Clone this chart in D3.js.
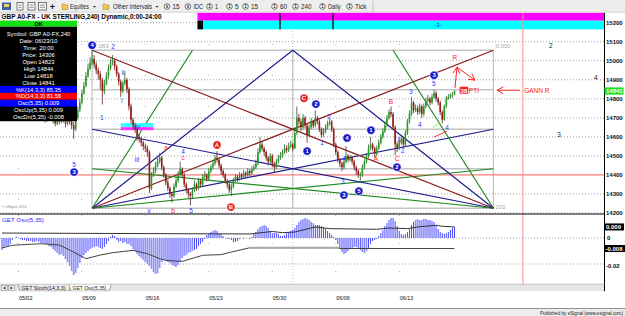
<!DOCTYPE html>
<html>
<head>
<meta charset="utf-8">
<script src="https://cdn.jsdelivr.net/npm/d3@7"></script>
<style>
  body { margin: 0; background: #fff; overflow: hidden; }
  svg { display: block; font-family: "Liberation Sans", Arial, sans-serif; }
</style>
</head>
<body>
<script>
// ---- 240 min GBP A0-FX bars ----
var closes = [14880,14860,14870,14840,14820,14850,14830,14800,14780,14810,
  14790,14760,14740,14770,14750,14720,14740,14760,14730,14700,
  14720,14690,14710,14740,14720,14690,14670,14700,14680,14710,
  14690,14670,14700,14680,14660,14640,
  14700,14740,14780,14830,14870,14920,14960,14990,15010,
  14980,14950,14930,14900,14840,
  14880,14920,14960,14990,15000,14970,
  14930,14890,14840,14880,14900,
  14850,14760,14690,14660,14640,14600,
  14590,14570,14550,14540,14520,14330,
  14400,14420,14450,14470,14490,14440,
  14400,14360,14330,14300,14290,14340,14370,14400,
  14430,14400,14350,14320,14300,14290,
  14320,14350,14330,14370,14350,14390,14400,14380,14420,14440,14460,14490,14480,
  14450,14420,14400,14370,14350,14320,14340,
  14370,14390,14380,14400,14390,14410,14400,14420,14410,14430,14440,14460,
  14520,14560,14540,14520,
  14490,14470,14500,14460,14440,14470,14490,
  14500,14520,14540,14530,14550,14560,14540,
  14620,14700,14680,
  14650,14700,14660,14610,14650,14680,14660,14700,14680,
  14640,14610,14630,14650,14670,14680,14640,14560,14520,14480,14460,14440,
  14470,14500,14480,14490,14470,14440,14420,
  14400,14400,14440,14470,
  14500,14540,14560,14540,14510,14540,14570,14600,
  14630,14660,14700,14730,14720,
  14650,14560,14540,14570,
  14590,14560,14620,14680,14720,14780,14740,
  14750,14730,14760,14720,14760,14790,
  14800,14780,14810,14830,14800,
  14780,14730,14690,
  14760,14800,14810,14820,14823,14841];

var highs = [14900,14895,14885,14880,14855,14865,14860,14840,14815,14825,
  14820,14800,14770,14785,14780,14760,14755,14775,14770,14740,
  14735,14730,14725,14755,14750,14730,14700,14715,14710,14725,
  14720,14700,14715,14710,14690,14680,
  14715,14760,14800,14850,14890,14940,14985,15020,15060,
  15030,14995,14965,14945,14910,
  14900,14940,14980,15010,15030,15010,
  14980,14940,14900,14895,14945,
  14910,14860,14775,14700,14675,14650,
  14615,14600,14580,14565,14555,14530,
  14415,14440,14470,14490,14515,14500,
  14450,14410,14375,14340,14310,14355,14390,14420,
  14470,14440,14410,14360,14330,14310,
  14335,14370,14360,14385,14380,14405,14420,14410,14435,14455,14480,14505,14525,
  14490,14460,14430,14410,14380,14360,14355,
  14385,14405,14400,14415,14410,14425,14420,14435,14430,14445,14455,14480,
  14540,14600,14575,14550,
  14530,14500,14515,14510,14470,14485,14505,
  14520,14535,14560,14555,14570,14580,14570,
  14650,14760,14720,
  14695,14720,14710,14670,14665,14700,14690,14740,14710,
  14690,14650,14645,14665,14685,14695,14690,14650,14570,14530,14490,14470,
  14485,14550,14510,14505,14500,14480,14450,
  14430,14415,14455,14485,
  14515,14560,14600,14570,14550,14555,14585,14615,
  14645,14680,14715,14745,14760,
  14730,14660,14575,14590,
  14610,14600,14635,14695,14740,14810,14790,
  14770,14765,14775,14770,14775,14805,
  14820,14810,14825,14850,14840,
  14810,14790,14740,
  14770,14815,14825,14830,14835,14844];

var lows = [14865,14845,14850,14825,14805,14810,14815,14790,14765,14770,
  14775,14745,14725,14730,14735,14705,14710,14730,14715,14685,
  14690,14675,14680,14700,14705,14670,14655,14660,14665,14670,
  14675,14650,14660,14665,14640,14590,
  14630,14690,14730,14770,14820,14860,14910,14950,14975,
  14960,14930,14900,14850,14770,
  14825,14870,14905,14950,14975,14950,
  14915,14870,14810,14830,14870,
  14830,14740,14670,14640,14620,14580,
  14570,14550,14530,14520,14495,14305,
  14320,14390,14410,14440,14460,14425,
  14385,14345,14315,14280,14255,14280,14330,14360,
  14390,14385,14335,14305,14280,14240,
  14275,14310,14315,14320,14335,14340,14375,14365,14370,14410,14430,14450,14465,
  14435,14400,14385,14355,14330,14305,14290,
  14330,14360,14365,14370,14375,14380,14385,14390,14395,14400,14420,14430,
  14450,14510,14525,14500,
  14475,14450,14460,14440,14410,14430,14460,
  14480,14490,14510,14515,14520,14540,14525,
  14535,14610,14660,
  14630,14640,14645,14570,14600,14640,14645,14650,14665,
  14625,14595,14600,14620,14640,14660,14625,14545,14505,14465,14440,14420,
  14430,14460,14465,14470,14455,14425,14400,
  14385,14370,14390,14430,
  14460,14490,14530,14525,14490,14500,14530,14560,
  14590,14620,14650,14690,14705,
  14635,14505,14520,14530,
  14560,14545,14550,14610,14670,14710,14725,
  14730,14715,14720,14700,14710,14750,
  14780,14765,14770,14800,14785,
  14765,14715,14670,
  14685,14750,14795,14800,14805,14818];

// GET Oso(5,35) histogram, in units of 0.001
var oscHist = [-9.2,-7.7,-6.2,-6.2,-4.6,-1.5,0,0.8,0,-0.8,
  -1.5,-1.5,-2.3,-2.3,-2.3,-3.1,-3.1,-2.3,-3.1,-3.8,
  -3.8,-4.6,-4.6,-6.2,-6.9,-8.5,-10,-11.5,-13.1,-12.3,
  -13.8,-16.2,-18.5,-21.5,-25.4,-28.5,-26.9,-23.1,-19.2,-15.4,
  -13.1,-11.5,-10,-8.5,-7.7,-6.9,-6.2,-6.9,-7.7,-8.5,
  -6.9,-4.6,-2.3,0.8,2.3,1.5,-1.5,-3.1,-2.3,-3.8,
  -3.1,-4.6,-4.6,-6.2,-8.5,-10,-12.3,-13.8,-15.4,-16.9,
  -18.5,-20,-21.5,-23.8,-26.2,-27.7,-26.9,-23.1,-18.5,-16.9,
  -17.7,-18.5,-19.2,-20.8,-21.5,-22.3,-20.8,-18.5,-15.4,-13.8,
  -13.1,-11.5,-10.8,-10,-9.2,-8.5,-6.2,-4.6,-3.1,-0.8,
  2.3,3.8,4.6,5.4,6.2,5.4,3.8,3.1,1.5,0,
  -0.8,-0.8,-1.5,-3.1,-3.1,-2.3,-0.8,0,-0.8,0,
  0,-0.8,0.8,3.1,4.6,6.9,8.5,9.2,10,9.2,
  7.7,5.4,3.8,3.8,3.8,3.1,1.5,1.5,2.3,3.8,
  4.6,5.4,6.2,7.7,10,12.3,13.8,14.6,15.4,14.6,
  13.8,12.3,11.5,10,10,10,9.2,8.5,6.9,5.4,
  3.8,2.3,0.8,-1.5,-4.6,-7.7,-10.8,-12.3,-11.5,-10,
  -8.5,-7.7,-6.9,-6.9,-7.7,-9.2,-10.8,-11.5,-10,-7.7,
  -4.6,-2.3,-1.5,-0.8,1.5,3.8,6.2,9.2,11.5,13.8,
  15.4,15.4,13.1,9.2,5.4,3.1,2.3,3.1,4.6,6.9,
  10,12.3,13.8,14.6,13.8,13.8,14.6,14.6,13.8,13.8,
  13.1,12.3,9.2,6.9,4.6,3.8,3.1,3.8,4.6,6.2,
  7.7,8.5];

// OscUp / OscDn lines: [bar, value in 0.001]
var oscUp = [[0,3.8],[121,3.1],[125,3.8],[132,5.0],[137,4.1],[143,4.6],[153,8.5],
  [160,7.2],[183,6.7],[189,7.7],[198,7.2],[203,8.5],[212,9.8],[215,9.0],[221,8.5]];
var oscDn = [[0,-7.7],[5,-5.6],[19,-4.4],[28,-5.4],[33,-9.2],[41,-15.9],[48,-13.1],
  [54,-11.3],[64,-9.5],[71,-12.1],[77,-15.9],[80,-17.2],[88,-18],[98,-13.3],
  [107,-12.8],[112,-10.8],[121,-7.5],[164,-7.5],[165,-8.1],[221,-8.1]];

var weekLabels = ["05/02","05/09","05/16","05/23","05/30","06/06","06/13"];
var weekBars = [8,39,70,101,132,163,194];
var priceTicks = [14200,14300,14400,14500,14600,14700,14800,14900,15000,15100,15200];

// Gann box: bars and prices of its corners
var gannBars = [44,240];
var gannPrices = [14225,15055];

// wave count marks: [bar, price, text]
var blueCircles = [[44,15081,"4"],[35.2,14415,"3"],[149,14525,"1"],[153.3,14772,"2"],
  [168.5,14594,"4"],[167,14294,"3"],[174.3,14315,"5"],[180.2,14635,"1"],[192.9,14441,"2"],[211,14924,"3"]];
var redCircles = [[105,14557,"A"],[111.8,14231,"B"],[147.5,14803,"C"]];
var blueLabels = [[35.2,14452,"5"],[48.8,14698,"1"],[54.2,15071,"2"],[59.1,14935,"ii"],
  [58.6,14788,"i"],[65.9,14478,"iii"],[66.4,14652,"iv"],[71.8,14210,"v"],[88.4,14520,"4"],[92.3,14210,"5"],
  [159.7,14704,"2"],[156.3,14567,"1"],[166.5,14363,"3"],[167,14483,"4"],[193.8,14583,"1"],
  [195.8,14525,"2"],[199.7,14835,"3"],[204.1,14662,"4"],[210.9,14877,"5"],[217.3,14646,"4"]];
var redLabels = [[80.1,14541,"a"],[88.4,14489,"c"],[83.5,14210,"b"],[182.6,14483,"A"],
  [189.9,14782,"B"],[192.9,14483,"C"],[221.2,15013,"R"]];
var blackLabels = [[268,15076,"2"],[290,14908,"4"],[272,14609,"3"]];
var waveZone = [58,74,14672,14651,14635];

var infoRows = ["Symbol: GBP A0-FX,240","Date: 06/23/10","Time: 20:00","Price: 14306",
  "Open 14823","High 14844","Low 14818","Close 14841","%K(14,3,3) 85.35","%D(14,3,3) 81.56",
  "Osc(5,35) 0.009","OscUp(5,35) 0.009","OscDn(5,35) -0.008"];
var lastPrice = 14841;
var alertBar = 254.4;

// ---------------------------------------------------------------
var W = 625, H = 316;
var svg = d3.select("body").append("svg").attr("width", W).attr("height", H);

var x = d3.scaleLinear().domain([0, 294]).range([2, 604]);
var y = d3.scaleLinear().domain([14200, 15100]).range([213, 41.7]);
var oy = d3.scaleLinear().domain([0, -0.02]).range([238, 264]);

function text(g, px, py, s, o) {
  o = o || {};
  var t = g.append("text").attr("x", px).attr("y", py).text(s)
    .attr("font-size", o.size || 6.5).attr("fill", o.fill || "#000");
  if (o.anchor) t.attr("text-anchor", o.anchor);
  if (o.weight) t.attr("font-weight", o.weight);
  if (o.len) t.attr("textLength", o.len).attr("lengthAdjust", "spacingAndGlyphs");
  return t;
}
function seg(g, x1, y1, x2, y2, col, w, dash) {
  var l = g.append("line").attr("x1", x1).attr("y1", y1).attr("x2", x2).attr("y2", y2)
    .attr("stroke", col).attr("stroke-width", w || 1);
  if (dash) l.attr("stroke-dasharray", dash);
  return l;
}
function arrowHead(g, x1, y1, x2, y2, col) {
  var a = Math.atan2(y2 - y1, x2 - x1);
  [0.5, -0.5].forEach(function (d) {
    seg(g, x2, y2, x2 - 7 * Math.cos(a + d), y2 - 7 * Math.sin(a + d), col, 1);
  });
}

// ---- main price panel ----
svg.append("defs").append("clipPath").attr("id", "mainclip")
  .append("rect").attr("x", 0).attr("y", 12.5).attr("width", 604.5).attr("height", 201.5);
var main = svg.append("g").attr("clip-path", "url(#mainclip)");

priceTicks.forEach(function (p) {
  if (p === 14400) return;
  seg(main, 0, y(p), 604, y(p), "#8a8a8a", 0.8, "1,2");
});
weekBars.forEach(function (b) {
  seg(main, x(b), 13, x(b), 214, "#9a9a9a", 0.8, "1,30");
});
seg(main, x(142), 13, x(142), 214, "#b0b0b0", 0.8, "1,2");

// gann grid
var gq = d3.range(5).map(function (k) { return gannPrices[0] + k * (gannPrices[1] - gannPrices[0]) / 4; });
var gb = d3.range(5).map(function (k) { return gannBars[0] + k * (gannBars[1] - gannBars[0]) / 4; });
gq.forEach(function (p) { seg(main, x(gannBars[0]), y(p), x(gannBars[1]), y(p), "#c4c4c4", 1.3); });
[gb[0], gb[2], gb[4]].forEach(function (b) { seg(main, x(b), y(gannPrices[1]), x(b), y(gannPrices[0]), "#c4c4c4", 1.3); });

seg(main, 0, y(14400), 604, y(14400), "#ff5a5a", 1);

// fan lines from both bottom corners
var fanColors = { green: "#1f8a1f", blue: "#1c1c8c", brown: "#8a1c1c" };
[[gb[0], gb[1], gb[2], gb[4]], [gb[4], gb[3], gb[2], gb[0]]].forEach(function (c) {
  var ox = x(c[0]), oyp = y(gq[0]);
  seg(main, ox, oyp, x(c[1]), y(gq[4]), fanColors.green, 1.2);
  seg(main, ox, oyp, x(c[2]), y(gq[4]), fanColors.blue, 1.2);
  seg(main, ox, oyp, x(c[3]), y(gq[4]), fanColors.brown, 1.2);
  seg(main, ox, oyp, x(c[3]), y(gq[2]), fanColors.blue, 1.2);
  seg(main, ox, oyp, x(c[3]), y(gq[1]), fanColors.green, 1.2);
});

text(main, x(gannBars[0]) + 5, y(gannPrices[1]) - 2.5, ".083", { size: 6, fill: "#a8a8a8" });
text(main, x(gannBars[1]) + 2, y(gannPrices[1]) - 2.5, "0.000", { size: 6, fill: "#a8a8a8" });
text(main, x(gannBars[1]) + 2, y(gannPrices[0]) + 1, "203", { size: 6, fill: "#a8a8a8" });

// wave-iv zone
main.append("rect").attr("x", x(waveZone[0])).attr("width", x(waveZone[1]) - x(waveZone[0]))
  .attr("y", y(waveZone[2])).attr("height", y(waveZone[3]) - y(waveZone[2])).attr("fill", "#33ffff");
main.append("rect").attr("x", x(waveZone[0])).attr("width", x(waveZone[1]) - x(waveZone[0]))
  .attr("y", y(waveZone[3])).attr("height", y(waveZone[4]) - y(waveZone[3])).attr("fill", "#ff33ff");

// candles
var bars = closes.map(function (c, i) {
  return { i: i, o: i ? closes[i - 1] : c, h: highs[i], l: lows[i], c: c };
});
var cg = main.append("g");
cg.selectAll("line").data(bars).join("line")
  .attr("x1", function (d) { return x(d.i); }).attr("x2", function (d) { return x(d.i); })
  .attr("y1", function (d) { return y(d.h); }).attr("y2", function (d) { return y(d.l); })
  .attr("stroke", function (d) { return d.c >= d.o ? "#2a5a2a" : "#5a2020"; })
  .attr("stroke-width", 0.8);
cg.selectAll("rect").data(bars).join("rect")
  .attr("x", function (d) { return x(d.i) - 0.8; }).attr("width", 1.6)
  .attr("y", function (d) { return y(Math.max(d.o, d.c)); })
  .attr("height", function (d) { return Math.max(0.8, Math.abs(y(d.o) - y(d.c))); })
  .attr("fill", function (d) { return d.c >= d.o ? "#22a022" : "#a01818"; });

// small annotation strokes near the last swing low
seg(main, x(211), y(14599), x(217.3), y(14630), "#ff3030", 1);
seg(main, x(210.4), y(14651), x(213.9), y(14672), "#55dd55", 1, "2,1");

// labels
blueLabels.forEach(function (d) {
  text(main, x(d[0]), y(d[1]) + 2.2, d[2], { size: 6.5, fill: "#3030ff", anchor: "middle" });
});
redLabels.forEach(function (d) {
  text(main, x(d[0]), y(d[1]) + 2.2, d[2], { size: 6.5, fill: "#ff2020", anchor: "middle" });
});
blackLabels.forEach(function (d) {
  text(main, x(d[0]), y(d[1]) + 2.2, d[2], { size: 6.5, fill: "#222", anchor: "middle" });
});
function circles(list, col) {
  list.forEach(function (d) {
    main.append("circle").attr("cx", x(d[0])).attr("cy", y(d[1])).attr("r", 4.2)
      .attr("fill", col).attr("stroke", "#fff").attr("stroke-width", 0.7);
    text(main, x(d[0]), y(d[1]) + 2.1, d[2], { size: 6, fill: "#fff", anchor: "middle", weight: "bold" });
  });
}
circles(blueCircles, "#1515c8");
circles(redCircles, "#e01c1c");

// red arrows at the Gann resistance
var ap = [[221.2, 14856], [222.2, 14966], [231, 14898]].map(function (d) { return [x(d[0]), y(d[1])]; });
seg(main, ap[0][0], ap[0][1], ap[1][0], ap[1][1], "#ff2020", 1);
arrowHead(main, ap[0][0], ap[0][1], ap[1][0], ap[1][1], "#ff2020");
seg(main, ap[1][0], ap[1][1], ap[2][0], ap[2][1], "#ff2020", 1);
arrowHead(main, ap[1][0], ap[1][1], ap[2][0], ap[2][1], "#ff2020");
var gy = y(14845);
seg(main, x(253), gy, x(241.8), gy, "#ff2020", 1);
arrowHead(main, x(253), gy, x(241.8), gy, "#ff2020");
text(main, x(255), gy + 2.3, "GANN R", { size: 6.5, fill: "#ff2020" });
main.append("rect").attr("x", x(223.5)).attr("y", gy - 3.5).attr("width", 8.5).attr("height", 7).attr("fill", "#ff2020");
text(main, x(223.5) + 4.25, gy + 2.3, "38", { size: 6, fill: "#fff", anchor: "middle", weight: "bold" });
text(main, x(228), gy + 2.3, "PTI", { size: 6.5, fill: "#ff2020" });
text(main, 2, 208, "\u00a9 eSignal 2010", { size: 3.6, fill: "#888" });

// alert line (pink)
seg(svg, x(alertBar), 12.7, x(alertBar), 284, "#ff8c8c", 1);

// ---- top strip: title, study bars ----
svg.append("rect").attr("x", 0).attr("y", 12.5).attr("width", 197.5).attr("height", 8.2).attr("fill", "#fff");
text(svg, 1.5, 19.2, "GBP A0-FX - UK STERLING,240| Dynamic,0:00-24:00", { size: 6.6, weight: "bold", len: 160 });
svg.append("rect").attr("x", 1).attr("y", 13).attr("width", 28).attr("height", 7.5)
  .attr("fill", "none").attr("stroke", "#666").attr("stroke-width", 0.5).attr("stroke-dasharray", "1,1");
svg.append("rect").attr("x", 197.5).attr("y", 12.7).attr("width", 407).attr("height", 8).attr("fill", "#ff00ff");
svg.append("rect").attr("x", 197.5).attr("y", 20.7).attr("width", 407).attr("height", 8.6).attr("fill", "#00ffff");
svg.append("rect").attr("x", 197.5).attr("y", 20.7).attr("width", 5.5).attr("height", 8.6).attr("fill", "#000");
seg(svg, 280, 12.7, 280, 29.3, "#000", 1.3);
seg(svg, 333, 12.7, 333, 29.3, "#000", 1.3);
seg(svg, x(alertBar), 12.7, x(alertBar), 29.3, "#ff8c8c", 1);
text(svg, 438, 27, "-3-", { size: 6, fill: "#2020ff", anchor: "middle" });

// ---- cursor window ----
var info = svg.append("g");
info.append("rect").attr("x", 0).attr("y", 20.7).attr("width", 77).attr("height", 6).attr("fill", "#10e010");
text(info, 38.5, 25.9, "OK", { size: 5.5, anchor: "middle", weight: "bold" });
info.append("rect").attr("x", 0).attr("y", 26.7).attr("width", 77).attr("height", 94.5).attr("fill", "#000");
var bandCol = { 8: "#0000ff", 9: "#ff0000", 10: "#0000ff" };
infoRows.forEach(function (r, k) {
  var cy = 34.2 + k * 6.9;
  if (bandCol[k]) info.append("rect").attr("x", 0).attr("y", cy - 3.45).attr("width", 77).attr("height", 6.9).attr("fill", bandCol[k]);
  text(info, 38.5, cy + 2.1, r, { size: 5.8, fill: "#fff", anchor: "middle" });
});

// ---- price axis ----
seg(svg, 604.5, 12.5, 604.5, 291, "#000", 1);
seg(svg, 0, 214, 604.5, 214, "#000", 1);
priceTicks.forEach(function (p) {
  text(svg, 606, y(p) + 2.2, p, { size: 6, weight: "bold", fill: "#111" });
});
svg.append("rect").attr("x", 604.5).attr("y", y(lastPrice) - 3.6).attr("width", 19).attr("height", 7.2).attr("fill", "#22dd22");
text(svg, 606, y(lastPrice) + 2.2, lastPrice, { size: 6, weight: "bold", fill: "#fff" });

// ---- oscillator panel ----
var og = svg.append("g");
text(og, 2, 221.5, "GET Oso(5,35)", { size: 6.2, fill: "#2a2aff" });
seg(og, 0, oy(0), 604, oy(0), "#8a8a8a", 0.8, "1,2");
seg(og, 0, oy(-0.02), 604, oy(-0.02), "#8a8a8a", 0.8, "1,2");
weekBars.forEach(function (b) { seg(og, x(b), 215, x(b), 284, "#9a9a9a", 0.8, "1,27"); });
seg(og, x(142), 215, x(142), 284, "#b0b0b0", 0.8, "1,2");

var hist = oscHist.map(function (v, i) { return { i: i, v: v / 1000 }; });
function strong(d) { return d.v <= -0.0095 || d.v >= 0.0135; }
og.selectAll("rect.sh").data(hist.filter(strong)).join("rect")
  .attr("x", function (d) { return x(d.i) - 1.03; }).attr("width", 2.06)
  .attr("y", function (d) { return Math.min(oy(0), oy(d.v)); })
  .attr("height", function (d) { return Math.abs(oy(d.v) - oy(0)); })
  .attr("fill", "#b8b8ff");
og.selectAll("line.hb").data(hist).join("line")
  .attr("x1", function (d) { return x(d.i); }).attr("x2", function (d) { return x(d.i); })
  .attr("y1", oy(0)).attr("y2", function (d) { return oy(d.v); })
  .attr("stroke", function (d) { return strong(d) ? "#8c8cff" : "#4a4aff"; })
  .attr("stroke-width", 1);

var oline = d3.line().x(function (d) { return x(d[0]); }).y(function (d) { return oy(d[1] / 1000); });
og.append("path").attr("d", oline(oscUp)).attr("fill", "none").attr("stroke", "#333").attr("stroke-width", 1);
og.append("path").attr("d", oline(oscDn)).attr("fill", "none").attr("stroke", "#444").attr("stroke-width", 1);
og.append("path").attr("d", oline(oscDn.filter(function (d) { return d[0] >= 121 && d[0] <= 164; })))
  .attr("fill", "none").attr("stroke", "#aaa").attr("stroke-width", 2.2);

var upEnd = oscUp[oscUp.length - 1][1] / 1000, dnEnd = oscDn[oscDn.length - 1][1] / 1000;
og.append("rect").attr("x", 604.5).attr("y", oy(upEnd) - 3.5).attr("width", 19.5).attr("height", 7).attr("fill", "#000");
text(og, 606, oy(upEnd) + 2.2, "0.009", { size: 6, fill: "#fff", weight: "bold" });
text(og, 607, oy(0) + 2.2, "0", { size: 6, weight: "bold", fill: "#111" });
og.append("rect").attr("x", 604.5).attr("y", oy(dnEnd) - 3.5).attr("width", 20.5).attr("height", 7).attr("fill", "#000");
text(og, 605.5, oy(dnEnd) + 2.2, "-0.008", { size: 6, fill: "#fff", weight: "bold" });
text(og, 606, oy(-0.02) + 3.5, "-0.02", { size: 6, weight: "bold", fill: "#111" });
seg(og, 0, 284.3, 604.5, 284.3, "#9a9a9a", 0.8);

// ---- tabs, date axis, status bar ----
svg.append("rect").attr("x", 0).attr("y", 284.7).attr("width", 604.5).attr("height", 6.6).attr("fill", "#e6e6e6");
[1.5, 8.5].forEach(function (bx, k) {
  svg.append("rect").attr("x", bx).attr("y", 285.3).attr("width", 6).attr("height", 5.4)
    .attr("fill", "#f4f4f4").attr("stroke", "#777").attr("stroke-width", 0.5);
  var tx = bx + 3;
  svg.append("path").attr("d", k ? "M" + (tx - 1) + ",286.5L" + (tx + 1.3) + ",288L" + (tx - 1) + ",289.5Z"
    : "M" + (tx + 1) + ",286.5L" + (tx - 1.3) + ",288L" + (tx + 1) + ",289.5Z").attr("fill", "#222");
});
svg.append("path").attr("d", "M18,284.7L20,291.2L69,291.2L71,284.7").attr("fill", "#ececec").attr("stroke", "#666").attr("stroke-width", 0.6);
svg.append("path").attr("d", "M69,284.7L71,291.2L109,291.2L111,284.7").attr("fill", "#fff").attr("stroke", "#666").attr("stroke-width", 0.6);
text(svg, 21.5, 290.3, "GET Stoch(14,3,3)", { size: 5.3, fill: "#222", len: 44 });
text(svg, 72.5, 290.3, "GET Oso(5,35)", { size: 5.3, fill: "#222", len: 34 });

svg.append("rect").attr("x", 0).attr("y", 291.3).attr("width", 625).attr("height", 17).attr("fill", "#fff");
seg(svg, 604.5, 284.7, 604.5, 291.3, "#000", 1);
weekLabels.forEach(function (s, k) {
  text(svg, x(weekBars[k]) + 0.5, 300.3, s, { size: 6.2, fill: "#111", len: 13.5 });
});
seg(svg, 0, 308.5, 625, 308.5, "#777", 0.8);
svg.append("rect").attr("x", 0).attr("y", 309).attr("width", 625).attr("height", 7).attr("fill", "#ececec");
text(svg, 623, 314.6, "Published by eSignal (www.esignal.com)", { size: 4.6, fill: "#222", anchor: "end", len: 83 });

// ---- toolbar ----
var tb = svg.append("g");
tb.append("rect").attr("width", W).attr("height", 12.5).attr("fill", "#eeeeee");
seg(tb, 0, 12.2, W, 12.2, "#c4c4c4", 0.6);
tb.append("rect").attr("x", 2).attr("y", 2.5).attr("width", 9).attr("height", 7.5).attr("fill", "#3a5fb0");
tb.append("rect").attr("x", 4).attr("y", 4).attr("width", 5).attr("height", 3).attr("fill", "#f2d24a");
[[17, 6], [28, 7], [38.5, 8]].forEach(function (d) {
  tb.append("rect").attr("x", d[0]).attr("y", 2.5).attr("width", d[1]).attr("height", 7.5)
    .attr("fill", "#fafafa").attr("stroke", "#444").attr("stroke-width", 0.7);
  seg(tb, d[0] + 1.5, 5, d[0] + d[1] - 1.5, 5, "#444", 0.6);
  seg(tb, d[0] + 1.5, 7.3, d[0] + d[1] - 1.5, 7.3, "#444", 0.6);
});
text(tb, 52.5, 10, "+", { size: 9, weight: "bold", anchor: "middle", fill: "#111" });
[62, 103].forEach(function (fx) {
  tb.append("path").attr("d", "M" + fx + ",4L" + (fx + 2.5) + ",4L" + (fx + 3.2) + ",5L" + (fx + 6) + ",5L" + (fx + 6) + ",9.5L" + fx + ",9.5Z")
    .attr("fill", "#f0c850").attr("stroke", "#a08020").attr("stroke-width", 0.5);
});
text(tb, 70, 9.3, "Equities", { size: 6.8, fill: "#222", len: 19 });
text(tb, 113, 9.3, "Other Intervals", { size: 6.8, fill: "#222", len: 39 });
[94.5, 157].forEach(function (ax) {
  tb.append("path").attr("d", "M" + (ax - 1.6) + ",6L" + (ax + 1.6) + ",6L" + ax + ",7.8Z").attr("fill", "#333");
});
var tbItems = [[167, "x", "15", 7], [188, "x", "IDC", 9.5], [209.5, "1", "1", 3], [229.5, "1", "5", 3.5],
  [245.5, "1", "15", 7], [274.5, "1", "60", 7], [295.5, "1", "240", 10.5], [322.5, "1", "Daily", 12.5], [349.5, "1", "Tick", 11.5]];
tbItems.forEach(function (d) {
  tb.append("circle").attr("cx", d[0]).attr("cy", 6.5).attr("r", 2.8).attr("fill", "#fff").attr("stroke", "#333").attr("stroke-width", 0.7);
  text(tb, d[0], 8.3, d[1], { size: 4.6, anchor: "middle", fill: "#222", weight: "bold" });
  text(tb, d[0] + 5.5, 9.3, d[2], { size: 6.8, fill: "#222", len: d[3] });
});
seg(tb, 373, 1, 373, 12, "#b8b8b8", 0.8);
</script>
</body>
</html>
